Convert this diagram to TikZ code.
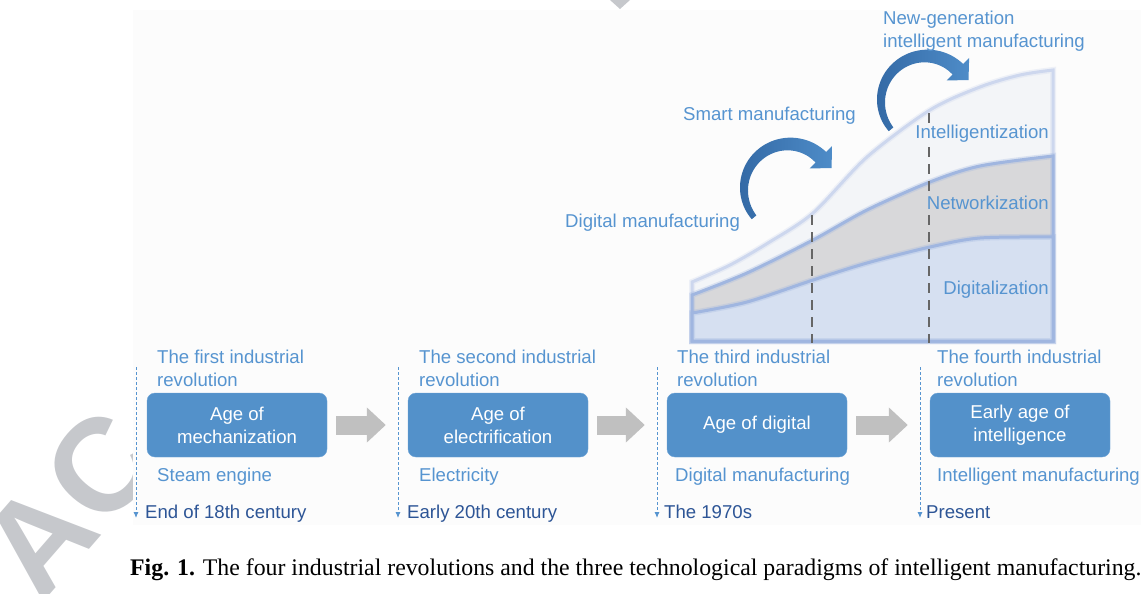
\documentclass[tikz,border=0pt]{standalone}
\usepackage{fontspec}
\setmainfont{Liberation Serif}
\setsansfont{Liberation Sans}
\usetikzlibrary{arrows.meta,calc}
\definecolor{boxblue}{RGB}{83,145,202}
\definecolor{boxedge}{RGB}{110,163,214}
\definecolor{txtblue}{RGB}{86,148,208}
\definecolor{datblue}{RGB}{45,85,150}
\definecolor{arrgray}{RGB}{192,192,192}
\definecolor{bentdark}{RGB}{52,106,166}
\definecolor{bentlight}{RGB}{78,140,200}
\definecolor{topfill}{RGB}{243,245,248}
\definecolor{midfill}{RGB}{216,216,218}
\definecolor{lowfill}{RGB}{214,224,241}
\definecolor{softblue}{RGB}{205,215,238}
\definecolor{edgeblue}{RGB}{160,182,224}
\definecolor{markgray}{RGB}{198,200,204}
\definecolor{figbg}{RGB}{252,252,252}

\begin{document}
\begin{tikzpicture}[x=1pt, y=-1pt,
	sans/.style={font=\sffamily\fontsize{18.6}{23}\selectfont, inner sep=0pt},
	lbl/.style={sans, text=txtblue, align=left},
	datelbl/.style={sans, text=datblue, anchor=base west},
	age/.style={sans, rectangle, rounded corners=8pt, fill=boxblue, draw=boxedge, text=white, minimum width=180pt, minimum height=64pt, align=center},
	blockarr/.style={arrgray, line width=19pt, -{Triangle[length=19pt,width=34pt]}, shorten <=9pt, shorten >=22pt},
	tline/.style={txtblue, line width=0.9pt, dash pattern=on 3pt off 2pt, -{Latex[length=6pt,width=5pt]}},
	glow/.style={line width=3pt, postaction={draw, line width=6pt, draw opacity=0.3}},
	era/.style={draw=black!60, line width=2.5pt, dash pattern=on 10pt off 7pt}]
	\useasboundingbox (0,0) rectangle (1141,594);
	\node[markgray, font=\sffamily\bfseries\fontsize{132}{132}\selectfont, rotate=49, inner sep=0pt] (wm) at (70,503) {AC};
	\fill[markgray] (610,0) -- (630,0) -- (620,9) -- cycle;
	\fill[figbg] (133,10) rectangle (1141,525);

	\filldraw[fill=topfill, draw=softblue, glow] (692,341) -- plot[smooth] coordinates {(692,282) (730,265) (768,243) (813,213) (867,157) (930,110) (980,87) (1020,75) (1053,70)} -- (1053,341) -- cycle;
	\filldraw[fill=midfill, draw=edgeblue, glow] (692,341) -- plot[smooth] coordinates {(692,295) (747,273) (813,240) (867,210) (930,182) (980,166) (1053,156)} -- (1053,341) -- cycle;
	\filldraw[fill=lowfill, draw=edgeblue, glow] (692,341) -- plot[smooth] coordinates {(692,313) (747,302) (813,280) (867,263) (930,247) (980,238) (1053,237)} -- (1053,341) -- cycle;
	\draw[era] (812,215) -- (812,343);
	\draw[era] (929,113) -- (929,343);
	\node[lbl, anchor=base east, fill=topfill] (intel) at (1049,139) {Intelligentization};
	\node[lbl, anchor=base east, fill=midfill] (netw) at (1049,209) {Networkization};
	\node[lbl, anchor=base east] (digi) at (1049,294) {Digitalization};

	\foreach \cx/\cy in {789/189, 926/101}
		\shade[left color=bentdark, right color=bentlight]
			plot[smooth, domain=141:315, samples=25, variable=\t] ({\cx+(48+4.5*(\t-141)/174)*cos(\t)}, {\cy+(48+4.5*(\t-141)/174)*sin(\t)})
			-- ($(\cx,\cy)+(315:61)$) -- ($(\cx,\cy)+(42.5,-21)$) -- ($(\cx,\cy)+(315:29)$)
			-- plot[smooth, domain=315:141, samples=25, variable=\t] ({\cx+(42-4.5*(\t-141)/174)*cos(\t)}, {\cy+(42-4.5*(\t-141)/174)*sin(\t)}) -- cycle;
	\node[lbl, anchor=base west] (dm) at (565,227) {Digital manufacturing};
	\node[lbl, anchor=base west] (sm) at (683,120) {Smart manufacturing};
	\node[lbl, anchor=base west] (ngim) at (883,48) {New-generation\\intelligent manufacturing};

	\node[age] (b1) at (237,425) {Age of\\mechanization};
	\node[age] (b2) at (498,425) {Age of\\electrification};
	\node[age] (b3) at (757,425) {Age of digital};
	\node[age] (b4) at (1020,425) {Early age of\\intelligence};
	\draw[blockarr] (b1) -- (b2);
	\draw[blockarr] (b2) -- (b3);
	\draw[blockarr] (b3) -- (b4);

	\node[lbl, anchor=base west] (r1) at (157,386) {The first industrial\\revolution};
	\node[lbl, anchor=base west] (r2) at (419,386) {The second industrial\\revolution};
	\node[lbl, anchor=base west] (r3) at (677,386) {The third industrial\\revolution};
	\node[lbl, anchor=base west] (r4) at (937,386) {The fourth industrial\\revolution};
	\node[lbl, anchor=base west] (k1) at (157,481) {Steam engine};
	\node[lbl, anchor=base west] (k2) at (419,481) {Electricity};
	\node[lbl, anchor=base west] (k3) at (675,481) {Digital manufacturing};
	\node[lbl, anchor=base west] (k4) at (937,481) {Intelligent manufacturing};
	\node[datelbl] (d1) at (145,518) {End of 18th century};
	\node[datelbl] (d2) at (407,518) {Early 20th century};
	\node[datelbl] (d3) at (664,518) {The 1970s};
	\node[datelbl] (d4) at (926,518) {Present};
	\coordinate (s1) at (136,367);
	\coordinate (s2) at (398,367);
	\coordinate (s3) at (657,367);
	\coordinate (s4) at (920,367);
	\draw[tline] (s1) -- (s1 |- d1.base);
	\draw[tline] (s2) -- (s2 |- d2.base);
	\draw[tline] (s3) -- (s3 |- d3.base);
	\draw[tline] (s4) -- (s4 |- d4.base);

	\node[anchor=base west, inner sep=0pt, font=\fontsize{23.8}{28}\selectfont] (cap) at (130,575) {\textbf{Fig. 1.} The four industrial revolutions and the three technological paradigms of intelligent manufacturing.};
\end{tikzpicture}
\end{document}
